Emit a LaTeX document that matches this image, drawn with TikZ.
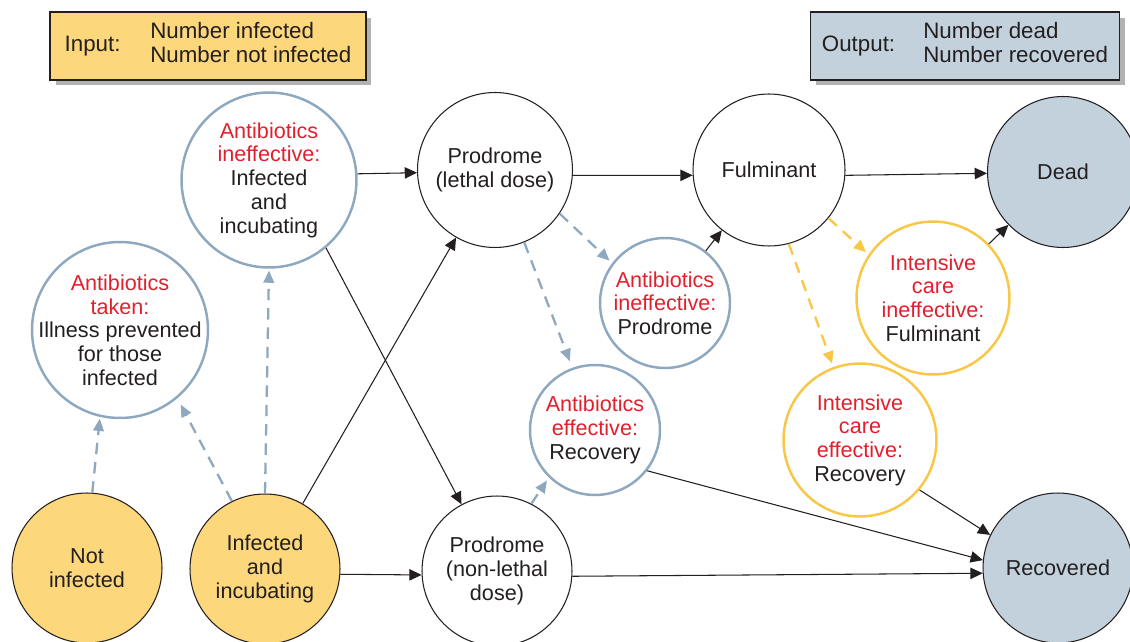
\documentclass[tikz,border=0pt]{standalone}
\usepackage{fontspec}
\setmainfont{Liberation Sans}
\usetikzlibrary{shadows,arrows.meta}
\definecolor{ink}{HTML}{231F20}
\definecolor{warn}{HTML}{E2202D}
\definecolor{ochre}{HTML}{FDD77C}
\definecolor{gold}{HTML}{F9C745}
\definecolor{steel}{HTML}{8DA8BF}
\definecolor{slate}{HTML}{C3D1DC}
\newcommand\redtxt[1]{\textcolor{warn}{#1}}

\begin{document}
\begin{tikzpicture}[x=0.02cm, y=-0.02cm,
  every node/.style={text=ink, font=\fontsize{12.3}{13.5}\selectfont, align=center},
  stage/.style={circle, draw=ink, line width=0.6pt, inner sep=0pt, minimum size=#1},
  stage/.default=3cm,
  seed/.style={stage=#1, fill=ochre},
  seed/.default=3cm,
  drug/.style={stage=#1, draw=steel, line width=1.4pt},
  care/.style={stage=#1, draw=gold, line width=1.4pt},
  outcome/.style={stage=#1, fill=slate},
  outcome/.default=3cm,
  panel/.style={draw=ink, line width=0.8pt, minimum height=1.36cm, inner sep=0pt,
    font=\fontsize{12.7}{13.8}\selectfont,
    drop shadow={shadow xshift=0.11cm, shadow yshift=-0.11cm, fill=black!30, opacity=1}},
  flow/.style={-{Triangle[length=7pt,width=6.5pt]}, draw=ink, line width=0.6pt},
  blueflow/.style={-{Triangle[length=7pt,width=6pt]}, draw=steel, line width=1.3pt,
    dash pattern=on 6.5pt off 4.5pt, shorten >=1pt},
  goldflow/.style={blueflow, draw=gold}]
\useasboundingbox (0,0) rectangle (1130,642);

\node[panel, fill=ochre, minimum width=6.32cm] (inbox) at (208,46)
  {Input:\hspace{17pt}\begin{tabular}[c]{@{}l@{}}Number infected\\Number not infected\end{tabular}};
\node[panel, fill=slate, minimum width=6.18cm] (outbox) at (965,46)
  {Output:\hspace{16pt}\begin{tabular}[c]{@{}l@{}}Number dead\\Number recovered\end{tabular}};

\node[seed] (notinf) at (87,568) {Not\\infected};
\node[seed] (incub) at (265,569) {Infected\\and\\incubating};
\node[drug=3.52cm, inner sep=-5pt] (taken) at (120,330) {\redtxt{Antibiotics}\\\redtxt{taken:}\\Illness prevented\\for those\\infected};
\node[drug=3.5cm] (abinc) at (269,180) {\redtxt{Antibiotics}\\\redtxt{ineffective:}\\Infected\\and\\incubating};
\node[stage=3.1cm] (lethal) at (495,170) {Prodrome\\(lethal dose)};
\node[stage] (mild) at (497,571) {Prodrome\\(non-lethal\\dose)};
\node[drug=2.6cm] (abpro) at (665,303) {\redtxt{Antibiotics}\\\redtxt{ineffective:}\\Prodrome};
\node[drug=2.6cm] (abrec) at (595,430) {\redtxt{Antibiotics}\\\redtxt{effective:}\\Recovery};
\node[stage=3.04cm] (fulm) at (769,170) {Fulminant};
\node[care=3.06cm] (icful) at (933,298) {\redtxt{Intensive}\\\redtxt{care}\\\redtxt{ineffective:}\\Fulminant};
\node[care=3.06cm] (icrec) at (860,440) {\redtxt{Intensive}\\\redtxt{care}\\\redtxt{effective:}\\Recovery};
\node[outcome=3.02cm] (dead) at (1063,172) {Dead};
\node[outcome] (recov) at (1058,568) {Recovered};

\draw[flow] (abinc.4) -- (lethal.182);
\draw[flow] (lethal.-4) -- (fulm.184);
\draw[flow] (fulm.-4) -- (dead.181);
\draw[flow] (incub) -- (lethal);
\draw[flow] (abinc.-50) -- (mild.118);
\draw[flow] (incub.-4) -- (mild.183);
\draw[flow] (mild.-4) -- (recov.184);
\draw[flow] (abrec.-38) -- (recov.174);
\draw[flow] (icrec.-40) -- (recov.154);
\draw[flow] (abpro) -- (fulm);
\draw[flow] (icful) -- (dead);

\draw[blueflow] (notinf.86) -- (taken.257);
\draw[blueflow, shorten >=4pt] (incub.116) -- (taken.-50);
\draw[blueflow] (incub.north) -- (abinc.south);
\draw[blueflow, shorten >=2pt] (lethal.-34) -- (abpro.143);
\draw[blueflow, shorten >=4pt] (lethal.-68) -- (abrec.110);
\draw[blueflow, shorten >=2pt] (mild.63) -- (abrec.226);
\draw[goldflow, shorten >=2pt] (fulm.-39) -- (icful.146);
\draw[goldflow, shorten >=2pt] (fulm.-75) -- (icrec.110);
\end{tikzpicture}
\end{document}
